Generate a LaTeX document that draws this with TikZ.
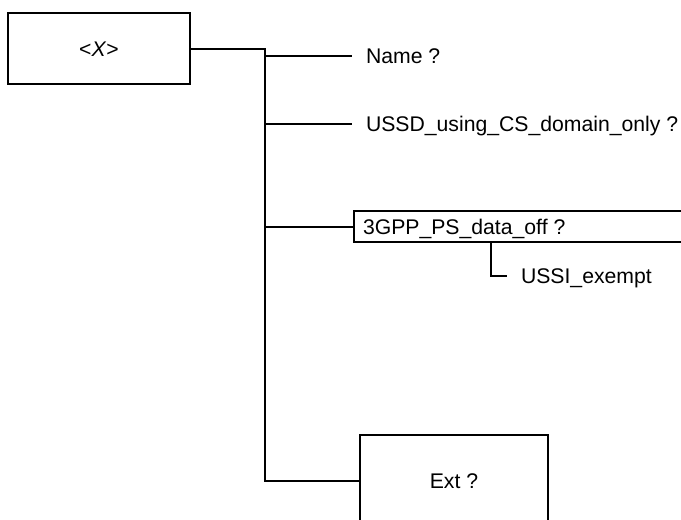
\documentclass[tikz,border=0pt]{standalone}
\usepackage{fontspec}
\setmainfont{Liberation Sans}
\usetikzlibrary{positioning}

\begin{document}
\begin{tikzpicture}[x=0.5pt,y=-0.5pt,line width=1pt,
    every node/.style={font=\fontsize{10.6}{12}\selectfont,text height=7.6pt,text depth=0pt},
    leaf/.style={anchor=west,inner xsep=6.5pt,inner ysep=0pt},
    block/.style={draw,inner sep=0pt}]
    \useasboundingbox (0,0) rectangle (681,520);
    \clip (0,0) rectangle (681,520);

    % Root element and trunk
    \node[block,minimum width=91pt,minimum height=35.5pt] (root) at (99,48.5) {<\textit{X}>};
    \node[block,minimum width=94pt,minimum height=46pt] (ext) at (454,481) {Ext ?};
    \coordinate (trunk) at (265,0);
    \draw (root.east) -- (trunk |- root.east) -- (trunk |- ext) -- (ext.west);

    % Leaves
    \node[leaf] (name) at (352,56) {Name ?};
    \node[leaf] (ussd) at (352,124) {USSD\_using\_CS\_domain\_only ?};
    \draw (trunk |- name) -- (name);
    \draw (trunk |- ussd) -- (ussd);

    % Data off box with its child
    \node[block,anchor=west,minimum width=170pt,minimum height=15.5pt] (psbox) at (353,226.5) {};
    \node[leaf,inner xsep=4.5pt] (ps) at (psbox.west) {3GPP\_PS\_data\_off ?};
    \draw (trunk |- psbox) -- (psbox);
    \node[leaf] (ussi) at (507,276) {USSI\_exempt};
    \coordinate (fork) at (491,242);
    \draw (fork) |- (ussi);
\end{tikzpicture}
\end{document}
